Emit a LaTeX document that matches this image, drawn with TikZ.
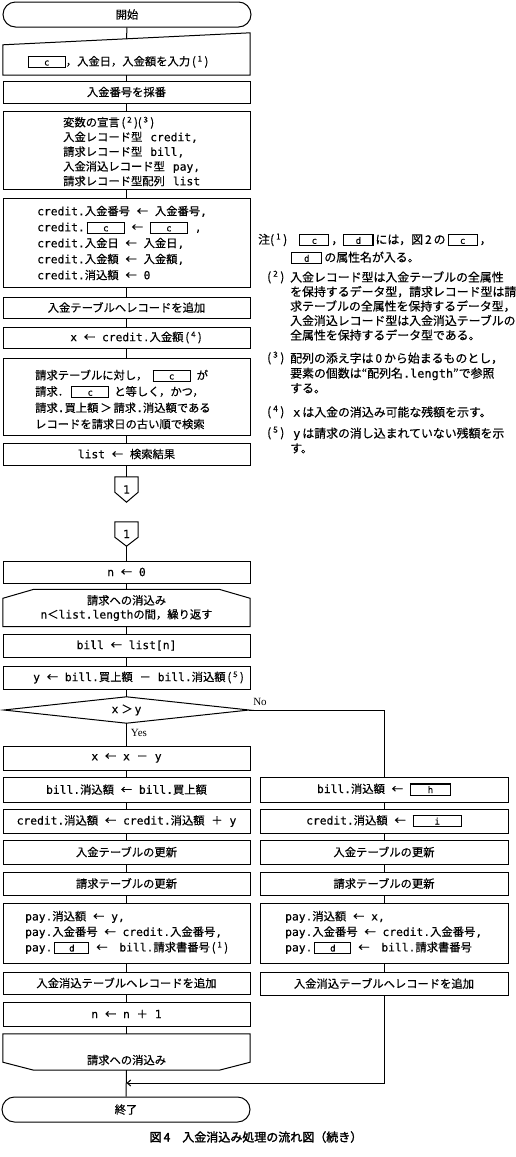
\documentclass[tikz,border=0pt]{standalone}
\usepackage{fontspec}
\setmainfont[FakeBold=0.4]{Noto Sans CJK JP}
\newfontfamily\monof[FakeBold=0.3]{DejaVu Sans Mono}
\newfontfamily\capfont[FakeBold=2]{Noto Sans CJK JP}
\newfontfamily\serifl{Liberation Serif}
\usetikzlibrary{arrows.meta}
\newcommand\mt[1]{{\monof #1}}
\newcommand\lar{\mt{ }←\mt{ }}
\newcommand\fnm[1]{(\,\textsuperscript{#1}\,)}
\newcommand\bxx[2][36pt]{{\setlength{\fboxsep}{0pt}\setlength{\fboxrule}{1.1pt}\fbox{\makebox[#1]{\rule[-1.5pt]{0pt}{10pt}{\fontsize{9}{9}\selectfont\mt{#2}}}}}}
\newcommand\ffs{\fontsize{11.3}{16}\selectfont}
\newcommand\nfs{\fontsize{11.9}{14.5}\selectfont}
\begin{document}
\begin{tikzpicture}[x=1pt,y=-1pt,
  ln/.style={line width=1pt},
  bxs/.style={draw, line width=1pt, minimum width=247pt, inner sep=0pt, font=\ffs},
  rbxs/.style={bxs, minimum width=248pt},
  txt/.style={inner sep=0pt, font=\ffs, align=left, anchor=west},
  term/.style={draw, line width=1pt, rounded corners=12.5pt, minimum width=248pt, minimum height=25pt, inner sep=0pt, font=\ffs},
  ghost/.style={inner sep=0pt, font=\ffs},
  note/.style={inner sep=0pt, font=\nfs, align=left, anchor=west},
  lbl/.style={inner sep=0pt, font={\serifl\fontsize{11}{11}\selectfont}}]
\fill[white] (0,0) rectangle (516,1157);
\useasboundingbox (0,0) rectangle (516,1157);

% ---- upper part
\node[term] (start) at (127,14.5) {開始};
\node[ghost, minimum width=247pt, minimum height=42pt] (inp) at (126.5,54) {};
\draw[ln] (inp.south west) -- ([yshift=-12pt]inp.north west) -- (inp.north east) -- (inp.south east) -- cycle;
\node[ghost] (inpt) at (118,62) {\bxx{c}，入金日，入金額を入力\,\fnm{1}};
\node[bxs, minimum height=22pt] (num) at (126.5,92) {入金番号を採番};
\node[bxs, minimum height=78pt] (decl) at (126.5,150) {};
\node[txt, font={\fontsize{11.3}{14.7}\selectfont}] (declt) at (63,151.5) {変数の宣言\,\fnm{2}\fnm{3}\\入金レコード型\hspace{8pt}\mt{credit,}\\請求レコード型\hspace{8pt}\mt{bill,}\\入金消込レコード型\hspace{8pt}\mt{pay,}\\請求レコード型配列\hspace{8pt}\mt{list}};
\node[bxs, minimum height=89pt] (cred) at (126.5,242.5) {};
\node[txt, font={\fontsize{11.3}{16}\selectfont}] (credt) at (37,243) {\mt{credit.}入金番号\lar 入金番号\mt{,}\\\mt{credit.}\,\bxx{c}\lar\bxx{c}\mt{ ,}\\\mt{credit.}入金日\lar 入金日\mt{,}\\\mt{credit.}入金額\lar 入金額\mt{,}\\\mt{credit.}消込額\lar\mt{0}};
\node[bxs, minimum height=21pt] (addin) at (126.5,307.5) {入金テーブルへレコードを追加};
\node[bxs, minimum height=21pt] (xset) at (126.5,337.5) {};
\node[ghost] (xsett) at (136,337.5) {\mt{x}\lar\mt{credit.}入金額\,\fnm{4}};
\node[bxs, minimum height=77pt] (search) at (126.5,396.5) {};
\node[txt, font={\fontsize{11.3}{16.3}\selectfont}] (searcht) at (35,399.5) {請求テーブルに対し，\hspace{5pt}\bxx{c}\hspace{6pt}が\\請求．\hspace{2pt}\bxx{c}\hspace{5pt}と等しく，かつ，\\請求\mt{.}買上額\,＞\,請求\mt{.}消込額である\\レコードを請求日の古い順で検索};
\node[bxs, minimum height=22pt] (lst) at (126.5,454) {\mt{list}\lar 検索結果};

% ---- off-page connectors
\node[ghost, minimum width=23pt, minimum height=25pt] (c1) at (126.5,489.5) {\mt{1}};
\draw[ln] (c1.north west) -- (c1.north east) -- ([yshift=10pt]c1.south east) -- (c1.south) -- ([yshift=10pt]c1.south west) -- cycle;
\node[ghost, minimum width=23pt, minimum height=24pt] (c2) at (126.5,534) {\mt{1}};
\draw[ln] (c2.north west) -- (c2.north east) -- ([yshift=9pt]c2.south east) -- (c2.south) -- ([yshift=9pt]c2.south west) -- cycle;

% ---- lower part
\node[bxs, minimum height=22pt] (nzero) at (126.5,572) {\mt{n}\lar\mt{0}};
\node[ghost, minimum width=247pt, minimum height=37pt, align=center, font={\fontsize{11.3}{14}\selectfont}] (ls) at (126.5,608) {請求への消込み\\\mt{n}＜\mt{list.length}の間，繰り返す};
\draw[ln] (ls.south west) -- ([yshift=-9pt]ls.north west) -- ([xshift=31pt]ls.north west) -- ([xshift=-31pt]ls.north east) -- ([yshift=-9pt]ls.north east) -- (ls.south east) -- cycle;
\node[bxs, minimum height=23pt] (bl) at (126.5,645.5) {\mt{bill}\lar\mt{list[n]}};
\node[bxs, minimum height=23pt] (yset) at (126.5,677.5) {};
\node[ghost] (ysett) at (138.5,677.5) {\mt{y}\lar\mt{bill.}買上額\mt{ }－\mt{ }\mt{bill.}消込額\,\fnm{5}};
\node[ghost, minimum width=245pt, minimum height=26pt] (dec) at (126.5,710) {\mt{x}\hspace{3pt}＞\,\mt{y}};
\draw[ln] (dec.west) -- (dec.north) -- (dec.east) -- (dec.south) -- cycle;
\node[lbl] (nol) at (260,702) {No};
\node[lbl] (yesl) at (139,733) {Yes};
\node[bxs, minimum height=24pt] (xxy) at (126.5,758) {\mt{x}\lar\mt{x}\mt{ }－\mt{ y}};

\node[bxs, minimum height=25pt] (lb1) at (126.5,789.5) {\mt{bill.}消込額\lar\mt{bill.}買上額};
\node[bxs, minimum height=24pt] (lb2) at (126.5,821) {\mt{credit.}消込額\lar\mt{credit.}消込額\mt{ }＋\mt{ y}};
\node[bxs, minimum height=24pt] (lb3) at (126.5,852) {入金テーブルの更新};
\node[bxs, minimum height=23pt] (lb4) at (126.5,883.5) {請求テーブルの更新};
\node[bxs, minimum height=60pt] (lb5) at (126.5,933) {};
\node[txt, font={\fontsize{11.3}{15.5}\selectfont}] (lb5t) at (25,932.5) {\mt{pay.}消込額\lar\mt{y,}\\\mt{pay.}入金番号\lar\mt{credit.}入金番号\mt{,}\\\mt{pay.}\,\bxx[33pt]{d}\lar\hspace{5pt}\mt{bill.}請求書番号\,\fnm{1}};
\node[bxs, minimum height=22pt] (lb6) at (126.5,983) {入金消込テーブルへレコードを追加};
\node[bxs, minimum height=24pt] (ninc) at (126.5,1014) {\mt{n}\lar\mt{n}\mt{ }＋\mt{ 1}};
\node[ghost, minimum width=247pt, minimum height=36pt] (le) at (126.5,1052) {};
\draw[ln] (le.north west) -- (le.north east) -- ([yshift=8pt]le.south east) -- ([xshift=-31pt]le.south east) -- ([xshift=31pt]le.south west) -- ([yshift=8pt]le.south west) -- cycle;
\node[ghost] (let) at (126.5,1060) {請求への消込み};
\node[term] (fin) at (126,1109.5) {終了};

% ---- right column
\node[rbxs, minimum height=25pt] (rb1) at (384,789.5) {\mt{bill.}消込額\lar\bxx[39pt]{h}};
\node[rbxs, minimum height=24pt] (rb2) at (384,821) {\mt{credit.}消込額\lar\bxx[47pt]{i}};
\node[rbxs, minimum height=24pt] (rb3) at (384,852) {入金テーブルの更新};
\node[rbxs, minimum height=23pt] (rb4) at (384,883.5) {請求テーブルの更新};
\node[rbxs, minimum height=60pt] (rb5) at (384,933) {};
\node[txt, font={\fontsize{11.3}{15.5}\selectfont}] (rb5t) at (285,932.5) {\mt{pay.}消込額\lar\mt{x,}\\\mt{pay.}入金番号\lar\mt{credit.}入金番号\mt{,}\\\mt{pay.}\,\bxx[35pt]{d}\lar\hspace{5pt}\mt{bill.}請求書番号};
\node[rbxs, minimum height=23pt] (rb6) at (384,983.5) {入金消込テーブルへレコードを追加};

% ---- connectors
\draw[ln] (start.south) -- ([yshift=-6pt]inp.north);
\draw[ln] (inp.south) -- (num.north);
\foreach \a/\b in {num/decl, decl/cred, cred/addin, addin/xset, xset/search, search/lst, lst/c1, c2/nzero, nzero/ls, ls/bl, bl/yset, yset/dec, dec/xxy, xxy/lb1, lb1/lb2, lb2/lb3, lb3/lb4, lb4/lb5, lb5/lb6, lb6/ninc, ninc/le, le/fin, rb1/rb2, rb2/rb3, rb3/rb4, rb4/rb5, rb5/rb6}
  \draw[ln] (\a.south) -- (\b.north);
\draw[ln] (dec.east) -| (rb1.north);
\coordinate (merge) at (126.5,1083);
\draw[ln, -{Straight Barb[length=3.5pt,width=6pt]}] (rb6.south) |- (merge);

% ---- notes
\node[note] (n1) at (258,240) {注\fnm{1}\hspace{12pt}\bxx[28pt]{c}\,，\bxx[28pt]{d}\,には，図\,2\,の\,\bxx[28pt]{c}\,，};
\node[note] (n1b) at (291,258) {\bxx[29pt]{d}\,の属性名が入る。};
\node[note] (n2m) at (267,277) {\fnm{2}};
\node[note, font={\fontsize{11.9}{14.5}\selectfont}] (n2) at (290,306) {入金レコード型は入金テーブルの全属性\\を保持するデータ型，請求レコード型は請\\求テーブルの全属性を保持するデータ型，\\入金消込レコード型は入金消込テーブルの\\全属性を保持するデータ型である。};
\node[note] (n3m) at (267,358) {\fnm{3}};
\node[note, font={\fontsize{11.9}{15}\selectfont}] (n3) at (290,373) {配列の添え字は\,0\,から始まるものとし，\\要素の個数は“配列名\mt{.length}”で参照\\する。};
\node[note] (n4m) at (267,412) {\fnm{4}};
\node[note] (n4) at (293,412) {\mt{x}\,は入金の消込み可能な残額を示す。};
\node[note] (n5m) at (267,433) {\fnm{5}};
\node[note, font={\fontsize{11.9}{15}\selectfont}] (n5) at (290,440.5) {\hspace*{3pt}\mt{y}\,は請求の消し込まれていない残額を示\\す。};

% ---- caption
\node[inner sep=0pt, font={\capfont\fontsize{12}{12}\selectfont}] (cap) at (256,1137) {図\,4\quad 入金消込み処理の流れ図（続き）};
\end{tikzpicture}
\end{document}
